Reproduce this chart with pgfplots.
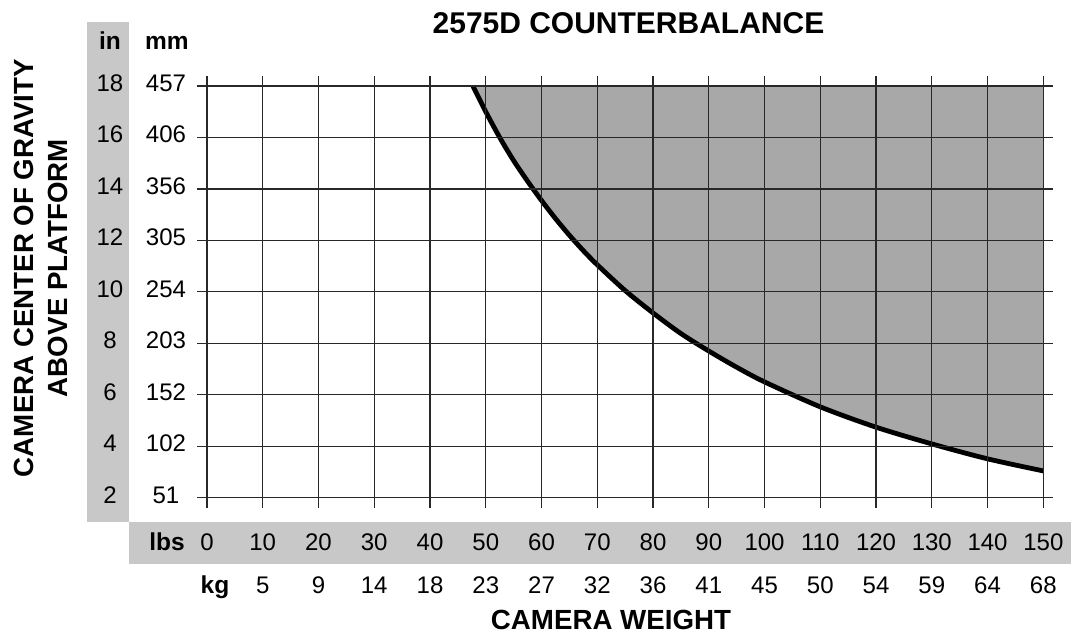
\documentclass[border=0pt]{standalone}
\usepackage{pgfplots}
\pgfplotsset{compat=1.18}
\usepackage{fontspec}
\setmainfont{Liberation Sans}
\definecolor{fillgray}{RGB}{168,168,168}
\definecolor{boxgray}{RGB}{200,200,200}
\definecolor{gridc}{RGB}{40,40,40}
\begin{document}
\begin{tikzpicture}[
  num/.style={inner sep=0pt, anchor=base, font=\fontsize{24pt}{28pt}\selectfont},
  hdr/.style={inner sep=0pt, anchor=base, font=\bfseries\fontsize{24.5pt}{29pt}\selectfont},
  lab/.style={inner sep=0pt, anchor=center, font=\bfseries\fontsize{27.7pt}{32pt}\selectfont}]
\path[use as bounding box] (0pt,0pt) rectangle (1076pt,634pt);
% grey label boxes
\fill[boxgray] (86.5pt,112pt) rectangle (129pt,612pt);
\fill[boxgray] (129pt,70pt) rectangle (1071pt,112pt);
\begin{axis}[
  at={(197pt,126.3pt)}, anchor=south west,
  scale only axis, width=856.3pt, height=431.7pt,
  xmin=-1.79, xmax=151.79, ymin=1.611, ymax=18.389,
  xtick={0,10,...,150}, ytick={2,4,...,18},
  xticklabels={}, yticklabels={},
  major tick length=0pt,
  axis line style={draw=none},
  grid=major,
  major grid style={gridc, line width=1.3pt},
  axis on top,
]
\addplot[fill=fillgray, draw=none, smooth] coordinates {
 (47.7,18.0) (50,17.0) (52.5,16.0) (55,15.1) (57.5,14.3) (60,13.55) (62.5,12.85)
 (65,12.2) (67.5,11.6) (70,11.05) (75,10.05) (80,9.18) (85,8.38) (90,7.7) (95,7.07)
 (100,6.5) (110,5.53) (120,4.74) (130,4.09) (140,3.51) (150,3.04)}
 -- (axis cs:150,18) -- (axis cs:47.7,18) -- cycle;
\addplot[black, line width=4.8pt, smooth] coordinates {
 (47.7,18.0) (50,17.0) (52.5,16.0) (55,15.1) (57.5,14.3) (60,13.55) (62.5,12.85)
 (65,12.2) (67.5,11.6) (70,11.05) (75,10.05) (80,9.18) (85,8.38) (90,7.7) (95,7.07)
 (100,6.5) (110,5.53) (120,4.74) (130,4.09) (140,3.51) (150,3.04)};
\end{axis}
% x tick labels
\foreach \v/\k in {0/,10/5,20/9,30/14,40/18,50/23,60/27,70/32,80/36,90/41,100/45,110/50,120/54,130/59,140/64,150/68}{
  \node[num] at ({206.98pt+5.5756pt*\v}, 83pt) {\v};
  \node[num] at ({206.98pt+5.5756pt*\v}, 40.5pt) {\k};
}
% y tick labels
\foreach \i/\m in {2/51,4/102,6/152,8/203,10/254,12/305,14/356,16/406,18/457}{
  \node[num] at (110pt, {136.31pt+25.73pt*(\i-2)-5.5pt}) {\i};
  \node[num] at (166pt, {136.31pt+25.73pt*(\i-2)-5.5pt}) {\m};
}
\node[hdr] at (110pt,584pt) {in};
\node[hdr] at (167pt,584pt) {mm};
\node[hdr] at (167pt,83pt) {lbs};
\node[hdr] at (215pt,40.5pt) {kg};
% titles
\node[lab, font=\bfseries\fontsize{30pt}{34pt}\selectfont] at (628.5pt,610.5pt) {2575D COUNTERBALANCE};
\node[lab] at (611pt,14pt) {CAMERA WEIGHT};
\node[lab, rotate=90] at (24pt,366pt) {CAMERA CENTER OF GRAVITY};
\node[lab, rotate=90] at (58pt,366pt) {ABOVE PLATFORM};
\end{tikzpicture}
\end{document}
